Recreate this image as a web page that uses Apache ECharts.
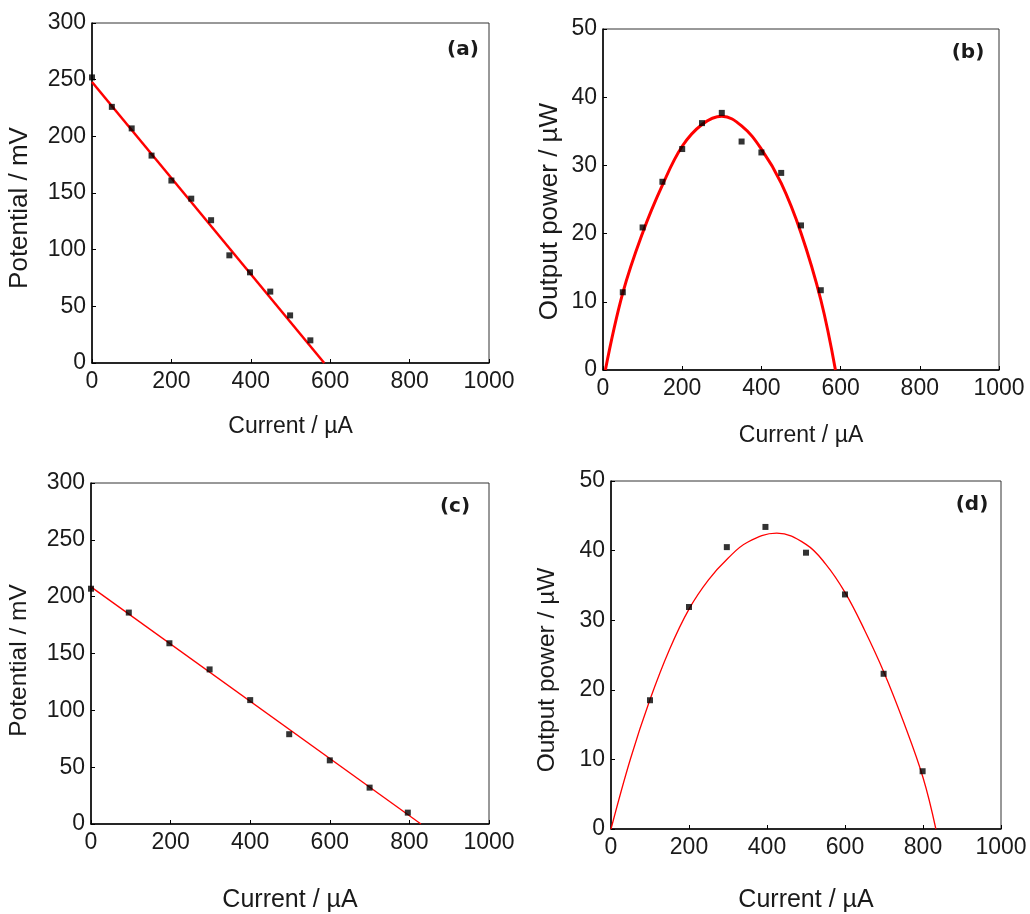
<!DOCTYPE html>
<html>
<head>
<meta charset="utf-8">
<script src="https://cdn.jsdelivr.net/npm/echarts@6/dist/echarts.min.js"></script>
<style>
  html, body { margin: 0; padding: 0; background: #fff; }
  #chart { width: 1030px; height: 914px; }
</style>
</head>
<body>
<div id="chart"></div>
<script>
// (a) polarisation curve, first cell
var aCurrent = [0, 50, 100, 150, 200, 250, 300, 346, 398, 449, 499, 550]
var aPotential = [252, 226, 207, 183, 161, 145, 126, 95, 80, 63, 42, 20]
var aFitCurrent = [0, 585]
var aFitPotential = [248, 0]

// (b) power curve, first cell
var bCurrent = [50, 100, 150, 200, 250, 300, 350, 400, 450, 500, 550]
var bPower = [11.4, 20.9, 27.6, 32.4, 36.2, 37.7, 33.5, 31.9, 28.9, 21.2, 11.7]
var bFitCurrent = [6, 50, 100, 150, 200, 250, 300, 350, 400, 450, 500, 550, 587]
var bFitPower = [0, 11.3, 20.1, 27.1, 32.8, 36.0, 37.2, 35.8, 32.4, 27.4, 20.1, 10.3, 0]

// (c) polarisation curve, second cell
var cCurrent = [0, 95, 197, 298, 400, 498, 600, 700, 796]
var cPotential = [207, 186, 159, 136, 109, 79, 56, 32, 10]
var cFitCurrent = [0, 829]
var cFitPotential = [208.6, 0]

// (d) power curve, second cell
var dCurrent = [100, 200, 297, 396, 500, 600, 699, 799]
var dPower = [18.5, 31.9, 40.5, 43.4, 39.7, 33.7, 22.3, 8.3]
var dFitCurrent = [0, 50, 100, 150, 200, 250, 300, 350, 425, 500, 550, 600, 650, 700, 750, 800, 833]
var dFitPower = [0, 10.1, 18.6, 25.8, 31.6, 35.8, 38.9, 41.2, 42.5, 40.9, 38.1, 34.0, 28.6, 22.5, 15.4, 7.4, 0]

var currentTicks = [0, 200, 400, 600, 800, 1000]
var potentialTicks = [0, 50, 100, 150, 200, 250, 300]
var powerTicks = [0, 10, 20, 30, 40, 50]

var panelLabels = ['(a)', '(b)', '(c)', '(d)']

function zip(xs, ys) {
  return xs.map(function (x, i) { return [x, ys[i]] })
}

var font = 'Liberation Sans, Arial, sans-serif'
var textColor = '#1a1a1a'

function plain(v) { return String(v) }

function makeX(idx, nameSize, labelSize, gap) {
  return {
    type: 'value', gridIndex: idx,
    min: currentTicks[0], max: currentTicks[currentTicks.length - 1],
    interval: currentTicks[1] - currentTicks[0],
    name: 'Current / µA', nameLocation: 'middle', nameGap: gap,
    nameTextStyle: { fontFamily: font, fontSize: nameSize, color: textColor },
    axisLine: { onZero: false, lineStyle: { color: '#000', width: 1.5 } },
    axisTick: { inside: true, length: 4, lineStyle: { color: '#000', width: 1 } },
    axisLabel: { fontFamily: font, fontSize: labelSize, color: textColor, margin: 7, formatter: plain },
    splitLine: { show: false }
  }
}

function makeY(idx, ticks, name, nameSize, labelSize, gap, shift) {
  return {
    type: 'value', gridIndex: idx,
    min: ticks[0], max: ticks[ticks.length - 1],
    interval: ticks[1] - ticks[0],
    name: name, nameLocation: 'middle', nameGap: gap,
    nameTextStyle: { fontFamily: font, fontSize: nameSize, color: textColor, padding: [0, shift, 0, 0] },
    axisLine: { onZero: false, lineStyle: { color: '#000', width: 1.5 } },
    axisTick: { inside: true, length: 4, lineStyle: { color: '#000', width: 1 } },
    axisLabel: { fontFamily: font, fontSize: labelSize, color: textColor, margin: 6, formatter: plain },
    splitLine: { show: false }
  }
}

function dots(idx, xs, ys) {
  return {
    type: 'scatter', xAxisIndex: idx, yAxisIndex: idx,
    data: zip(xs, ys), symbol: 'rect', symbolSize: 6,
    itemStyle: { color: '#000' }, z: 3
  }
}

function fit(idx, xs, ys, width) {
  return {
    type: 'line', xAxisIndex: idx, yAxisIndex: idx,
    data: zip(xs, ys), smooth: xs.length > 2 ? 0.4 : false,
    showSymbol: false, lineStyle: { color: '#ff0000', width: width }, z: 2
  }
}

var grids = [
  { left: 92, top: 23, width: 397, height: 340 },
  { left: 603, top: 29, width: 396, height: 341 },
  { left: 91, top: 483, width: 398, height: 350 },
  { left: 611, top: 481, width: 390, height: 352 }
].map(function (g) {
  g.show = true
  g.borderColor = '#333'
  g.borderWidth = 1
  g.backgroundColor = 'transparent'
  return g
})

var labelPos = [[463, 50], [968, 53], [455, 507], [972, 505]]

var option = {
  backgroundColor: '#fff',
  animation: false,
  grid: grids,
  xAxis: [
    makeX(0, 23, 23, 52),
    makeX(1, 23, 23, 54),
    makeX(2, 25, 23, 64),
    makeX(3, 25, 23, 59)
  ],
  yAxis: [
    makeY(0, potentialTicks, 'Potential / mV', 26, 23, 59, 30),
    makeY(1, powerTicks, 'Output power / µW', 26, 23, 40, 24),
    makeY(2, potentialTicks, 'Potential / mV', 24.5, 23, 59, 14),
    makeY(3, powerTicks, 'Output power / µW', 24.5, 23, 51, 30)
  ],
  graphic: panelLabels.map(function (t, i) {
    return {
      type: 'text', x: labelPos[i][0], y: labelPos[i][1],
      style: {
        text: t, fill: textColor, fontFamily: 'DejaVu Sans, sans-serif',
        fontWeight: 'bold', fontSize: 20, align: 'center', verticalAlign: 'middle'
      }
    }
  }),
  series: [
    fit(0, aFitCurrent, aFitPotential, 2.5), dots(0, aCurrent, aPotential),
    fit(1, bFitCurrent, bFitPower, 3), dots(1, bCurrent, bPower),
    fit(2, cFitCurrent, cFitPotential, 1.3), dots(2, cCurrent, cPotential),
    fit(3, dFitCurrent, dFitPower, 1.3), dots(3, dCurrent, dPower)
  ]
}

var chart = echarts.init(document.getElementById('chart'))
chart.setOption(option)
window.onresize = function () { chart.resize() }
</script>
</body>
</html>
